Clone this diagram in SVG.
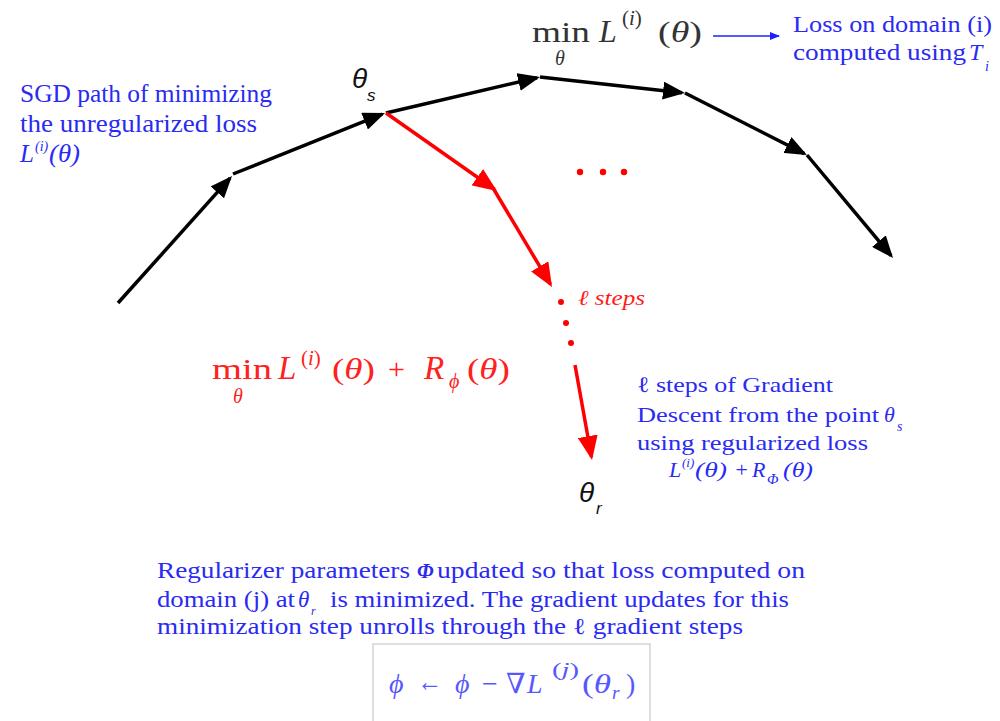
<svg xmlns="http://www.w3.org/2000/svg" width="1000" height="721" viewBox="0 0 1000 721">
<style>
.blue{fill:#2a2af2;}
.red{fill:#ff1a1a;}
.it{font-style:italic;}
.sans{font-style:italic;fill:#111;}
.blk{stroke:#000;stroke-width:3.5;fill:none;}
.rd{stroke:#ff0000;stroke-width:3.5;fill:none;}
</style>
<defs>
<marker id="ah" viewBox="0 0 22 18" refX="19" refY="9" markerWidth="22" markerHeight="18" markerUnits="userSpaceOnUse" orient="auto"><path d="M0,0 L22,9 L0,18 z" fill="#000"/></marker>
<marker id="ahr" viewBox="0 0 24 20" refX="21" refY="10" markerWidth="24" markerHeight="20" markerUnits="userSpaceOnUse" orient="auto"><path d="M0,0 L24,10 L0,20 z" fill="#ff0000"/></marker>
<marker id="ahb" viewBox="0 0 10 8" refX="9" refY="4" markerWidth="10" markerHeight="8" markerUnits="userSpaceOnUse" orient="auto"><path d="M0,0 L10,4 L0,8 z" fill="#2020ff"/></marker>
</defs>
<rect width="1000" height="721" fill="#fff"/>

<g id="connectors">
<line class="blk" x1="118" y1="303" x2="230.0" y2="178.2" marker-end="url(#ah)"/>
<line class="blk" x1="233" y1="174" x2="382.2" y2="114.1" marker-end="url(#ah)"/>
<line class="blk" x1="386" y1="113" x2="537.1" y2="77.7" marker-end="url(#ah)"/>
<line class="blk" x1="540" y1="77" x2="682.0" y2="92.7" marker-end="url(#ah)"/>
<line class="blk" x1="685" y1="93" x2="804.3" y2="153.6" marker-end="url(#ah)"/>
<line class="blk" x1="807" y1="155" x2="891.1" y2="255.7" marker-end="url(#ah)"/>
<line class="rd" x1="386" y1="113" x2="494.5" y2="189.3" marker-end="url(#ahr)"/>
<line class="rd" x1="493" y1="188" x2="550.5" y2="284.4" marker-end="url(#ahr)"/>
<line class="rd" x1="575" y1="365" x2="591.5" y2="457.0" marker-end="url(#ahr)"/>
<line x1="713" y1="36" x2="779" y2="36" stroke="#2020ff" stroke-width="1.5" marker-end="url(#ahb)"/>
<g fill="#ff0000">
<circle cx="580" cy="172" r="3.2"/><circle cx="603" cy="172" r="3.2"/><circle cx="624" cy="172" r="3.2"/>
<circle cx="561" cy="302" r="3"/><circle cx="566" cy="323" r="3"/><circle cx="571" cy="343" r="3"/>
</g>
</g>

<g id="sgd-label" class="blue" font-family="'Liberation Serif', 'DejaVu Serif', serif" font-size="25">
<text x="20" y="102" textLength="252" lengthAdjust="spacingAndGlyphs">SGD path of minimizing</text>
<text x="20" y="132" textLength="237" lengthAdjust="spacingAndGlyphs">the unregularized loss</text>
<text class="it" x="20" y="162">L</text>
<text class="it" x="35" y="151" font-size="14">(i)</text>
<text class="it" x="49" y="162" textLength="31" lengthAdjust="spacingAndGlyphs">(θ)</text>
</g>

<g id="theta-s" class="sans" font-family="'Liberation Sans', Arial, sans-serif">
<text x="352" y="88" font-size="28">θ</text>
<text x="367" y="101" font-size="17">s</text>
</g>

<g id="min-top" font-family="'Liberation Serif', 'DejaVu Serif', serif" fill="#333">
<text x="532" y="42" font-size="30" textLength="58" lengthAdjust="spacingAndGlyphs">min</text>
<text class="it" x="555" y="65" font-size="20">θ</text>
<text class="it" x="599" y="42" font-size="32">L</text>
<text x="622" y="25" font-size="21">(<tspan class="it">i</tspan>)</text>
<text x="658" y="42" font-size="30" textLength="44" lengthAdjust="spacingAndGlyphs">(<tspan class="it">θ</tspan>)</text>
</g>

<g id="loss-label" class="blue" font-family="'Liberation Serif', 'DejaVu Serif', serif" font-size="24">
<text x="793" y="32" textLength="199" lengthAdjust="spacingAndGlyphs">Loss on domain (i)</text>
<text x="793" y="60" textLength="173" lengthAdjust="spacingAndGlyphs">computed using</text>
<text class="it" x="969" y="60">T</text>
<text class="it" x="985" y="71" font-size="14">i</text>
</g>

<g id="l-steps" class="red" font-family="'Liberation Serif', 'DejaVu Serif', serif">
<text class="it" x="578" y="305" font-size="21" textLength="67" lengthAdjust="spacingAndGlyphs">ℓ steps</text>
</g>

<g id="min-red" font-family="'Liberation Serif', 'DejaVu Serif', serif" fill="#ff2020">
<text x="212" y="379" font-size="30" textLength="60" lengthAdjust="spacingAndGlyphs">min</text>
<text class="it" x="233" y="403" font-size="20">θ</text>
<text class="it" x="278" y="379" font-size="33">L</text>
<text x="301" y="365" font-size="21">(<tspan class="it">i</tspan>)</text>
<text x="332" y="379" font-size="30" textLength="43" lengthAdjust="spacingAndGlyphs">(<tspan class="it">θ</tspan>)</text>
<text x="388" y="379" font-size="30">+</text>
<text class="it" x="424" y="379" font-size="33">R</text>
<text class="it" x="449" y="388" font-size="20">ϕ</text>
<text x="467" y="379" font-size="30" textLength="43" lengthAdjust="spacingAndGlyphs">(<tspan class="it">θ</tspan>)</text>
</g>

<g id="theta-r" class="sans" font-family="'Liberation Sans', Arial, sans-serif">
<text x="579" y="502" font-size="28">θ</text>
<text x="596" y="514" font-size="17">r</text>
</g>

<g id="gd-label" class="blue" font-family="'Liberation Serif', 'DejaVu Serif', serif" font-size="22">
<text x="637" y="392" textLength="196" lengthAdjust="spacingAndGlyphs">ℓ steps of Gradient</text>
<text x="637" y="422" textLength="242" lengthAdjust="spacingAndGlyphs">Descent from the point</text>
<text class="it" x="884" y="422">θ</text>
<text class="it" x="897" y="431" font-size="14">s</text>
<text x="637" y="450" textLength="231" lengthAdjust="spacingAndGlyphs">using regularized loss</text>
<text class="it" x="669" y="477">L</text>
<text class="it" x="682" y="467" font-size="13">(i)</text>
<text class="it" x="695" y="477" textLength="32" lengthAdjust="spacingAndGlyphs">(θ)</text>
<text class="it" x="734" y="477">+</text>
<text class="it" x="752" y="477">R</text>
<text class="it" x="767" y="484" font-size="15">Φ</text>
<text class="it" x="783" y="477" textLength="30" lengthAdjust="spacingAndGlyphs">(θ)</text>
</g>

<g id="bottom-label" class="blue" font-family="'Liberation Serif', 'DejaVu Serif', serif" font-size="23">
<text x="157" y="578" textLength="253" lengthAdjust="spacingAndGlyphs">Regularizer parameters</text>
<text class="it" x="417" y="578" font-weight="bold" font-size="21">Φ</text>
<text x="437" y="578" textLength="368" lengthAdjust="spacingAndGlyphs">updated so that loss computed on</text>
<text x="157" y="607" textLength="138" lengthAdjust="spacingAndGlyphs">domain (j) at</text>
<text class="it" x="298" y="607">θ</text>
<text class="it" x="311" y="615" font-size="12">r</text>
<text x="330" y="607" textLength="459" lengthAdjust="spacingAndGlyphs">is minimized. The gradient updates for this</text>
<text x="157" y="634" textLength="586" lengthAdjust="spacingAndGlyphs">minimization step unrolls through the ℓ gradient steps</text>
</g>

<g id="update-box">
<rect x="373" y="644" width="277" height="90" fill="#fff" stroke="#d4d4d4" stroke-width="1.5"/>
<g font-family="'Liberation Serif', 'DejaVu Serif', serif" fill="#5757ff" font-size="28">
<text class="it" x="389" y="693">ϕ</text>
<text x="417" y="691" font-size="28" textLength="25" lengthAdjust="spacingAndGlyphs">←</text>
<text class="it" x="455" y="693">ϕ</text>
<text x="482" y="693">−</text>
<text x="506" y="693">∇</text>
<text class="it" x="527" y="693">L</text>
<text x="552" y="676" font-size="19" textLength="27" lengthAdjust="spacingAndGlyphs">(<tspan class="it">j</tspan>)</text>
<text x="582" y="693" textLength="29" lengthAdjust="spacingAndGlyphs">(<tspan class="it">θ</tspan></text>
<text class="it" x="612" y="699" font-size="19">r</text>
<text x="626" y="693">)</text>
</g>
</g>
</svg>
